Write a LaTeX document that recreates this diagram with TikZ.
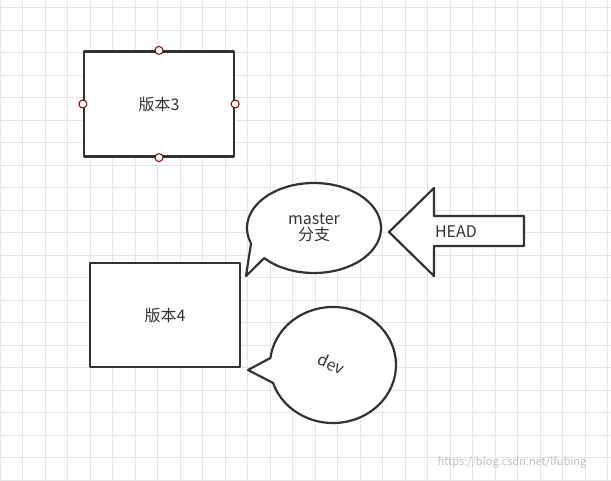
\documentclass[tikz,border=0pt]{standalone}
\usetikzlibrary{calc}
\usepackage{fontspec}
\setmainfont{Noto Sans CJK SC}
\begin{document}
\begin{tikzpicture}[x=1pt,y=1pt,
  shp/.style={draw=black!80,line width=2.2pt,fill=white,line join=round},
  lbl/.style={font=\fontsize{16}{19}\selectfont,text=black!80},
  port/.style={circle,draw=red!50!black,fill=white,line width=1pt,inner sep=0pt,minimum size=8pt}]
\fill[white] (0,0) rectangle (611,480);
\useasboundingbox (0,0) rectangle (611,480);
\draw[black!10,line width=0.6pt] (0,0) grid[step=22.5] (611,480);
% box 3
\node[shp,minimum width=150,minimum height=105] (v3) at (159,376) {};
\node[lbl] (t3) at (v3) {版本3};
\foreach \a in {north,south,east,west} \node[port] (p\a) at (v3.\a) {};
% box 4
\node[shp,minimum width=150,minimum height=104] (v4) at (165,165) {};
\node[lbl] (t4) at (v4) {版本4};
% master callout
\draw[shp] ($(314,252)+(222:67 and 45)$) arc[start angle=222,end angle=560,x radius=67,y radius=45] -- (246,204) -- cycle;
\node[lbl,align=center] (m) at (314,252) {master\\[-3pt]分支};
% dev callout
\draw[shp] ($(333,115)+(198:63 and 58)$) arc[start angle=198,end angle=533,x radius=63,y radius=58] -- (248,110) -- cycle;
\node[lbl,rotate=-25] (d) at (331,116) {dev};
% HEAD arrow
\draw[shp] (389,248) -- (434,292) -- (434,264) -- (524,264) -- (524,234) -- (434,234) -- (434,204) -- cycle;
\node[lbl] (h) at (456,248) {HEAD};
\node[font=\fontsize{11}{13}\selectfont,text=black!25] (w) at (512,18) {https://blog.csdn.net/lfubing};
\end{tikzpicture}
\end{document}
